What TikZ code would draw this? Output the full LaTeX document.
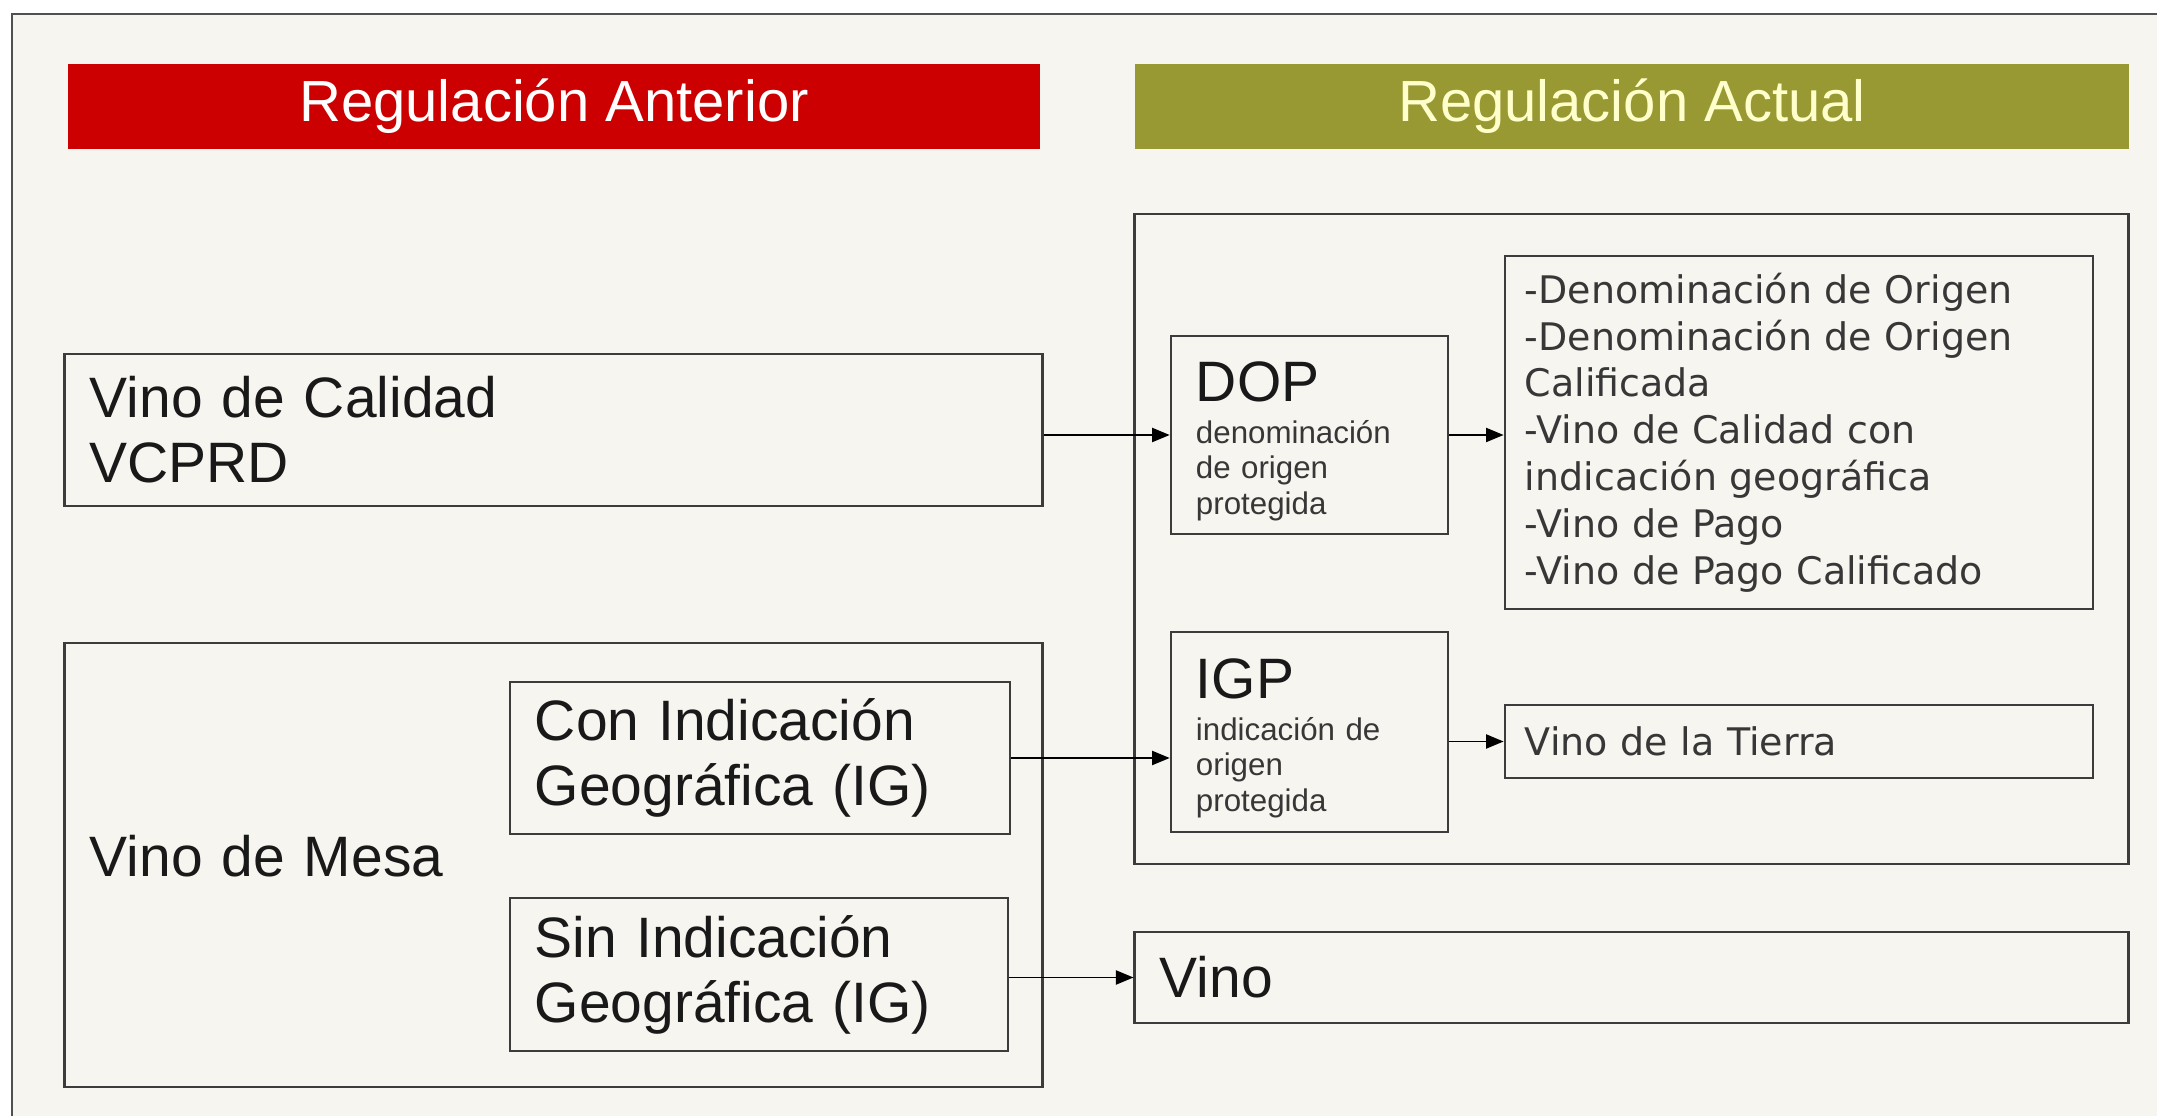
\documentclass[tikz,border=0pt]{standalone}
\usepackage{fontspec}
\setmainfont{Liberation Sans}
\newfontfamily\listfont{DejaVu Sans}
\usetikzlibrary{arrows.meta}
\definecolor{fondo}{RGB}{247,245,240}
\definecolor{marco}{RGB}{80,80,80}
\definecolor{linea}{RGB}{60,60,60}
\definecolor{rojo}{RGB}{204,0,0}
\definecolor{oliva}{RGB}{153,153,51}
\definecolor{crema}{RGB}{255,255,204}
\definecolor{texto}{RGB}{25,25,25}
\definecolor{gris}{RGB}{55,55,55}
\tikzset{
  caja/.style={draw=linea, line width=0.7pt, rectangle, inner xsep=0.25cm, inner ysep=0.05cm, align=left, text=texto},
  grande/.style={font=\fontsize{16.2}{18.5}\selectfont},
  sigla/.style={font=\fontsize{8.9}{10.1}\selectfont, text=gris, text height=0.525cm},
  lista/.style={font=\listfont\fontsize{10.8}{13.3}\selectfont, text=gris, inner xsep=0.2cm},
  titulo/.style={rectangle, minimum height=0.85cm, font=\fontsize{16.5}{19}\selectfont},
  flecha/.style={-{Triangle[length=5pt,width=4pt]}, line width=0.55pt, black},
}
\begin{document}
\begin{tikzpicture}[x=0.01cm, y=-0.01cm]
  \useasboundingbox (0,0) rectangle (2157,1116);
  \fill[white] (0,0) rectangle (2157,1116);
  \fill[fondo] (12,14) rectangle (2157,1116);
  \draw[marco, line width=0.7pt] (12,1116) -- (12,14) -- (2157,14);

  \node[titulo, fill=rojo, text=white, minimum width=9.72cm] (anterior) at (554,106.5) {Regulación Anterior};
  \node[titulo, fill=oliva, text=crema, minimum width=9.94cm] (actual) at (1632,106.5) {Regulación Actual};

  \node[caja, grande, minimum width=9.77cm, minimum height=1.52cm, text width=9.27cm] (vcprd) at (553.5,430)
    {Vino de Calidad\\VCPRD};
  \node[caja, grande, minimum width=9.77cm, minimum height=4.44cm, text width=9.27cm, text depth=0.176cm] (mesa) at (553.5,865)
    {Vino de Mesa};
  \node[caja, grande, minimum width=5cm, minimum height=1.52cm, text width=4.5cm] (con) at (760,758)
    {Con Indicación\\Geográfica (IG)};
  \node[caja, grande, minimum width=4.98cm, minimum height=1.53cm, text width=4.48cm] (sin) at (759,974.5)
    {Sin Indicación\\Geográfica (IG)};

  \node[caja, minimum width=9.93cm, minimum height=6.5cm] (nueva) at (1631.5,539) {};
  \node[caja, sigla, minimum width=2.77cm, minimum height=1.98cm, text width=2.27cm] (dop) at (1309.5,435)
    {{\color{texto}\fontsize{16.2}{18.5}\selectfont DOP}\\[0.055cm]denominación\\de origen\\protegida};
  \node[caja, sigla, minimum width=2.77cm, minimum height=2cm, text width=2.27cm] (igp) at (1309.5,732)
    {{\color{texto}\fontsize{16.2}{18.5}\selectfont IGP}\\[0.055cm]indicación de\\origen\\protegida};
  \node[caja, lista, minimum width=5.88cm, minimum height=3.53cm, text width=5.48cm] (tipos) at (1799,432.5)
    {-Denominación de Origen\\-Denominación de Origen\\Calificada\\-Vino de Calidad con\\indicación geográfica\\-Vino de Pago\\-Vino de Pago Calificado};
  \node[caja, lista, minimum width=5.88cm, minimum height=0.73cm, text width=5.48cm] (tierra) at (1799,741.5)
    {Vino de la Tierra};
  \node[caja, grande, minimum width=9.93cm, minimum height=0.91cm, text width=9.43cm] (vino) at (1631.5,977.5)
    {Vino};

  \begin{scope}[flecha]
    \draw (vcprd.east |- dop.west) -- (dop.west);
    \draw (dop.east) -- (dop.east -| tipos.west);
    \draw (con.east) -- (con.east -| igp.west);
    \draw (igp.east |- tierra.west) -- (tierra.west);
    \draw (sin.east |- vino.west) -- (vino.west);
  \end{scope}
\end{tikzpicture}
\end{document}
